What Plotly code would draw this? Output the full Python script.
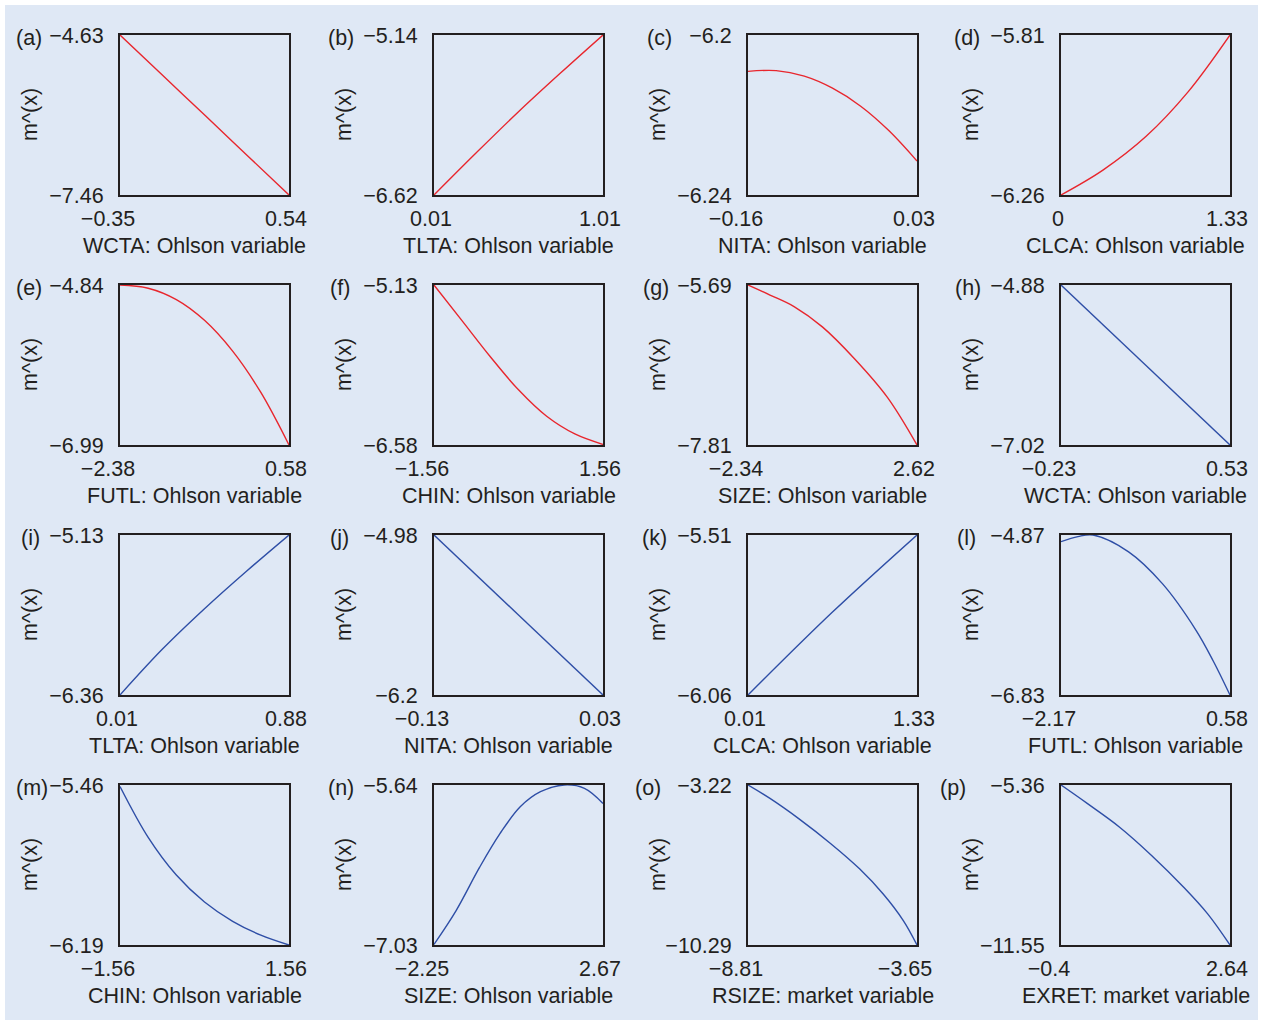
import plotly.graph_objects as go

W, H = 1261, 1023

# ---------------- data ----------------
panel_tags = ["(a)", "(b)", "(c)", "(d)", "(e)", "(f)", "(g)", "(h)",
              "(i)", "(j)", "(k)", "(l)", "(m)", "(n)", "(o)", "(p)"]

x_titles = ["WCTA: Ohlson variable", "TLTA: Ohlson variable", "NITA: Ohlson variable", "CLCA: Ohlson variable",
            "FUTL: Ohlson variable", "CHIN: Ohlson variable", "SIZE: Ohlson variable", "WCTA: Ohlson variable",
            "TLTA: Ohlson variable", "NITA: Ohlson variable", "CLCA: Ohlson variable", "FUTL: Ohlson variable",
            "CHIN: Ohlson variable", "SIZE: Ohlson variable", "RSIZE: market variable", "EXRET: market variable"]

x_min = [-0.35, 0.01, -0.16, 0, -2.38, -1.56, -2.34, -0.23, 0.01, -0.13, 0.01, -2.17, -1.56, -2.25, -8.81, -0.4]
x_max = [0.54, 1.01, 0.03, 1.33, 0.58, 1.56, 2.62, 0.53, 0.88, 0.03, 1.33, 0.58, 1.56, 2.67, -3.65, 2.64]
y_min = [-7.46, -6.62, -6.24, -6.26, -6.99, -6.58, -7.81, -7.02, -6.36, -6.2, -6.06, -6.83, -6.19, -7.03, -10.29, -11.55]
y_max = [-4.63, -5.14, -6.2, -5.81, -4.84, -5.13, -5.69, -4.88, -5.13, -4.98, -5.51, -4.87, -5.46, -5.64, -3.22, -5.36]

x_tick_text = [["−0.35", "0.54"], ["0.01", "1.01"], ["−0.16", "0.03"], ["0", "1.33"],
               ["−2.38", "0.58"], ["−1.56", "1.56"], ["−2.34", "2.62"], ["−0.23", "0.53"],
               ["0.01", "0.88"], ["−0.13", "0.03"], ["0.01", "1.33"], ["−2.17", "0.58"],
               ["−1.56", "1.56"], ["−2.25", "2.67"], ["−8.81", "−3.65"], ["−0.4", "2.64"]]
y_tick_text = [["−7.46", "−4.63"], ["−6.62", "−5.14"], ["−6.24", "−6.2"], ["−6.26", "−5.81"],
               ["−6.99", "−4.84"], ["−6.58", "−5.13"], ["−7.81", "−5.69"], ["−7.02", "−4.88"],
               ["−6.36", "−5.13"], ["−6.2", "−4.98"], ["−6.06", "−5.51"], ["−6.83", "−4.87"],
               ["−6.19", "−5.46"], ["−7.03", "−5.64"], ["−10.29", "−3.22"], ["−11.55", "−5.36"]]

# estimated curves m^(x)
x_a = [-0.35, -0.13, 0.10, 0.32, 0.54]
y_a = [-4.63, -5.33, -6.06, -6.76, -7.46]
x_b = [0.01, 0.26, 0.51, 0.76, 1.01]
y_b = [-6.62, -6.23, -5.85, -5.49, -5.14]
x_c = [-0.16, -0.1283, -0.0967, -0.065, -0.0333, -0.0017, 0.03]
y_c = [-6.2091, -6.2089, -6.2103, -6.2133, -6.2178, -6.2239, -6.2315]
x_d = [0, 0.33, 0.67, 1.0, 1.33]
y_d = [-6.26, -6.19, -6.095, -5.97, -5.81]
x_e = [-2.38, -1.887, -1.393, -0.90, -0.407, 0.087, 0.58]
y_e = [-4.84, -4.883, -5.036, -5.315, -5.729, -6.284, -6.99]
x_f = [-1.56, -1.04, -0.52, 0.0, 0.52, 1.04, 1.56]
y_f = [-5.13, -5.455, -5.78, -6.08, -6.32, -6.48, -6.575]
x_g = [-2.34, -1.695, -0.976, -0.158, 0.785, 1.752, 2.62]
y_g = [-5.69, -5.823, -5.979, -6.245, -6.667, -7.179, -7.81]
x_h = [-0.23, 0.15, 0.53]
y_h = [-4.88, -5.95, -7.02]
x_i = [0.01, 0.2275, 0.445, 0.6625, 0.88]
y_i = [-6.36, -6.009, -5.697, -5.407, -5.13]
x_j = [-0.13, -0.05, 0.03]
y_j = [-4.98, -5.59, -6.2]
x_k = [0.01, 0.67, 1.33]
y_k = [-6.06, -5.775, -5.51]
x_l = [-2.17, -1.895, -1.648, -1.07, -0.52, 0.03, 0.305, 0.58]
y_l = [-4.952, -4.89, -4.87, -5.076, -5.466, -6.04, -6.41, -6.83]
x_m = [-1.56, -1.04, -0.52, 0.0, 0.52, 1.04, 1.56]
y_m = [-5.467, -5.699, -5.871, -5.994, -6.082, -6.145, -6.19]
x_n = [-2.25, -1.61, -0.92, -0.33, 0.26, 0.85, 1.54, 2.13, 2.67]
y_n = [-7.025, -6.733, -6.354, -6.063, -5.829, -5.698, -5.64, -5.669, -5.80]
x_o = [-8.81, -8.139, -7.262, -6.282, -5.404, -4.682, -4.063, -3.65]
y_o = [-3.22, -3.814, -4.705, -5.814, -6.925, -8.037, -9.222, -10.29]
x_p = [-0.4, 0.071, 0.649, 1.229, 1.807, 2.242, 2.64]
y_p = [-5.36, -6.072, -6.982, -8.084, -9.316, -10.355, -11.55]

curves_x = [x_a, x_b, x_c, x_d, x_e, x_f, x_g, x_h, x_i, x_j, x_k, x_l, x_m, x_n, x_o, x_p]
curves_y = [y_a, y_b, y_c, y_d, y_e, y_f, y_g, y_h, y_i, y_j, y_k, y_l, y_m, y_n, y_o, y_p]
curve_group = ["red"] * 7 + ["blue"] * 9

# ---------------- styling / layout ----------------
FONT = "Liberation Sans, Arial, Helvetica, sans-serif"
FS = 21.5
TXT = "#231f20"
COLORS = {"red": "#e8262d", "blue": "#2e4ea6"}
col_px = [(120, 289), (434, 603), (748, 917), (1061, 1230)]
row_px = [(35, 195), (285, 445), (535, 695), (785, 945)]
tag_offset = [-91, -93, -89, -94, -91, -94, -92, -93, -90, -95, -94, -95, -88, -93, -100, -108]


def pad_neg(s):
    # negative labels are centred on the digits, not on the minus sign
    return s + "\u00a0\u00a0\u00a0" if s.startswith("−") else s


fig = go.Figure()
layout = dict(
    width=W, height=H,
    margin=dict(l=0, r=0, t=0, b=0, autoexpand=False),
    paper_bgcolor="white",
    plot_bgcolor="#b9d1ec",
    showlegend=False,
    font=dict(family=FONT, size=FS, color=TXT),
    annotations=[],
    shapes=[dict(type="rect", xref="paper", yref="paper",
                 x0=5 / W, x1=1258 / W, y0=1 - 1020 / H, y1=1 - 5 / H,
                 fillcolor="#dfe8f5", line=dict(width=0), layer="below")],
)

for k in range(16):
    r, c = divmod(k, 4)
    xs = "" if k == 0 else str(k + 1)
    xa, ya = "x" + xs, "y" + xs
    x0p, x1p = col_px[c]
    y0p, y1p = row_px[r]
    fig.add_trace(go.Scatter(
        x=curves_x[k], y=curves_y[k], mode="lines",
        line=dict(color=COLORS[curve_group[k]], width=1.4, shape="spline", smoothing=1.0),
        xaxis=xa, yaxis=ya, hoverinfo="skip"))
    layout["xaxis" + xs] = dict(
        domain=[x0p / W, x1p / W], anchor=ya, range=[x_min[k], x_max[k]],
        tickvals=[x_min[k], x_max[k]], ticktext=[pad_neg(t) for t in x_tick_text[k]],
        ticks="", showgrid=False, zeroline=False, automargin=False,
        showline=True, mirror=True, linecolor=TXT, linewidth=2,
        ticklabelstandoff=3, ticklabelshift=-3,
        tickfont=dict(family=FONT, size=FS, color=TXT))
    layout["yaxis" + xs] = dict(
        domain=[1 - y1p / H, 1 - y0p / H], anchor=xa, range=[y_min[k], y_max[k]],
        tickvals=[y_min[k], y_max[k]], ticktext=y_tick_text[k],
        ticks="", showgrid=False, zeroline=False, automargin=False,
        showline=True, mirror=True, linecolor=TXT, linewidth=2,
        ticklabelstandoff=10,
        tickfont=dict(family=FONT, size=FS, color=TXT))
    # x title
    layout["annotations"].append(dict(
        text=x_titles[k], xref=xa + " domain", yref=ya + " domain", x=0.5, y=0,
        xanchor="center", yanchor="middle", xshift=-10, yshift=-51, showarrow=False,
        font=dict(family=FONT, size=FS, color=TXT)))
    # y title
    layout["annotations"].append(dict(
        text="m^(x)", xref=xa + " domain", yref=ya + " domain", x=0, y=0.5,
        xanchor="center", yanchor="middle", xshift=-90, textangle=-90, showarrow=False,
        font=dict(family=FONT, size=FS, color=TXT)))
    # panel tag
    layout["annotations"].append(dict(
        text=panel_tags[k], xref=xa + " domain", yref=ya + " domain", x=0, y=1,
        xanchor="center", yanchor="middle", xshift=tag_offset[k], yshift=-3, showarrow=False,
        font=dict(family=FONT, size=FS, color=TXT)))

fig.update_layout(**layout)
fig.write_html("out.html", config={"displayModeBar": False},
               post_script="document.body.style.margin='0';")
